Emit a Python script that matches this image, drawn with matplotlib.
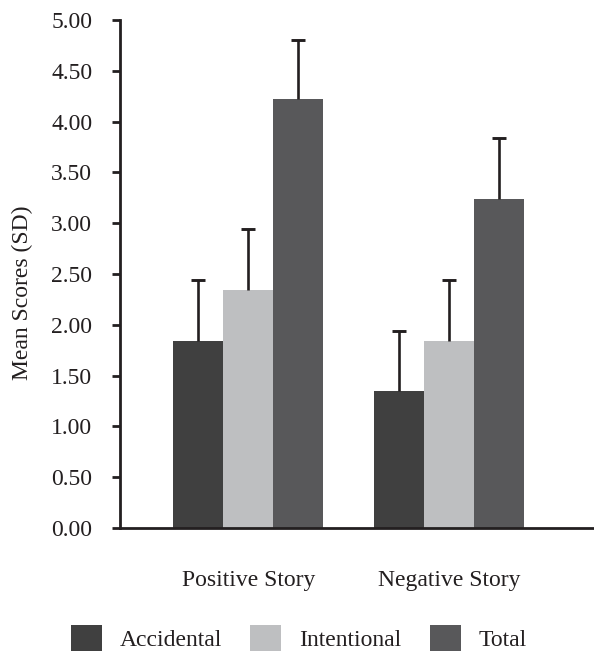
import matplotlib
matplotlib.use("Agg")
import matplotlib.pyplot as plt
import numpy as np

plt.rcParams["font.family"] = ["Liberation Serif", "DejaVu Serif"]

stories = ["Positive Story", "Negative Story"]
conditions = ["Accidental", "Intentional", "Total"]
means = {
    "Accidental": [1.84, 1.345],
    "Intentional": [2.34, 1.84],
    "Total": [4.22, 3.24],
}
sds = {
    "Accidental": [0.60, 0.595],
    "Intentional": [0.60, 0.60],
    "Total": [0.58, 0.60],
}
yticks = [0.0, 0.5, 1.0, 1.5, 2.0, 2.5, 3.0, 3.5, 4.0, 4.5, 5.0]

colors = {"Accidental": "#404040", "Intentional": "#bebfc1", "Total": "#58585a"}
ink = "#231f20"

fig = plt.figure(figsize=(5.94, 6.54), dpi=100)
ax = fig.add_axes([0.202, 0.1927, 0.798, 0.7767])

x = np.arange(len(stories))
w = 0.2488
for i, c in enumerate(conditions):
    xpos = x + (i - 1) * w
    m = np.array(means[c])
    sd = np.array(sds[c])
    ax.bar(xpos, m, width=w, color=colors[c], label=c, zorder=2)
    # upper half of the error bar only, cap drawn as a marker
    ax.errorbar(xpos, m, yerr=[np.zeros(len(m)), sd], fmt="none",
                ecolor=ink, elinewidth=1.9, capsize=0, zorder=3)
    ax.plot(xpos, m + sd, ls="none", marker="_", ms=9.5, mew=2.1,
            color=ink, zorder=3)

ax.set_xlim(-0.639, 1.719)
ax.set_ylim(0, 5)
ax.set_yticks(yticks)
ax.set_yticklabels([f"{t:.2f}" for t in yticks])
ax.set_xticks(x)
ax.set_xticklabels(stories)

for s in ["top", "right"]:
    ax.spines[s].set_visible(False)
for s in ["left", "bottom"]:
    ax.spines[s].set_linewidth(2)
    ax.spines[s].set_color(ink)

ax.tick_params(axis="y", direction="out", length=6, width=2, color=ink,
               labelsize=17, labelcolor=ink, pad=14)
ax.tick_params(axis="x", length=0, labelsize=17, labelcolor=ink, pad=30)

fig.text(22 / 594, 1 - 293 / 654, "Mean Scores (SD)", rotation=90,
         ha="center", va="center", fontsize=17, color=ink)

leg = fig.legend(loc="center", bbox_to_anchor=(0.503, 0.025), ncol=3,
                 frameon=False, fontsize=17, handlelength=1.31,
                 handleheight=1.31, handletextpad=0.76, columnspacing=1.2,
                 borderpad=0)
for t in leg.get_texts():
    t.set_color(ink)

fig.savefig("out.png", dpi=100)
